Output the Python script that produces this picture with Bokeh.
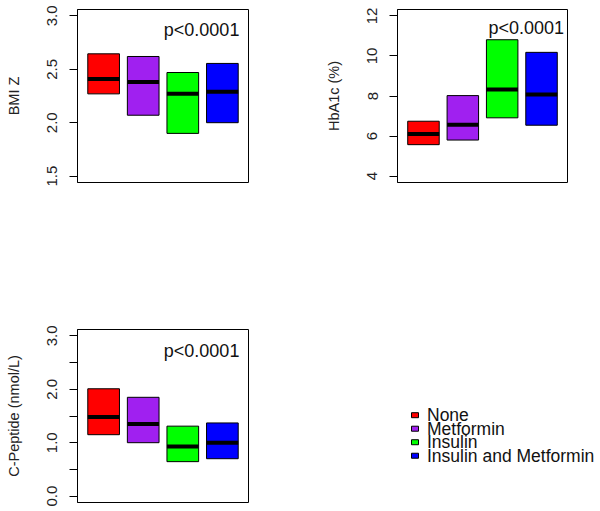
from bokeh.plotting import figure
from bokeh.layouts import column, row
from bokeh.models import Range1d, FixedTicker, PrintfTickFormatter, Label
from bokeh.core.properties import value
from bokeh.embed import file_html
from bokeh.resources import INLINE

# ---- data ----
groups = ["None", "Metformin", "Insulin", "Insulin and Metformin"]
colors = ["#FF0000", "#A020F0", "#00FF00", "#0000FF"]
positions = [1, 2, 3, 4]

bmi_q1 = [2.27, 2.07, 1.90, 2.00]
bmi_med = [2.41, 2.38, 2.27, 2.29]
bmi_q3 = [2.645, 2.62, 2.47, 2.555]
bmi_ticks = [1.5, 2.0, 2.5, 3.0]

hba_q1 = [5.57, 5.80, 6.91, 6.54]
hba_med = [6.10, 6.56, 8.32, 8.07]
hba_q3 = [6.74, 8.02, 10.81, 10.18]
hba_ticks = [4, 6, 8, 10, 12]

cp_q1 = [1.15, 1.00, 0.645, 0.70]
cp_med = [1.48, 1.35, 0.93, 1.00]
cp_q3 = [2.01, 1.85, 1.31, 1.37]
cp_ticks = [0.0, 0.5, 1.0, 1.5, 2.0, 2.5, 3.0]
cp_labels = {0.0: "0.0", 0.5: "", 1.0: "1.0", 1.5: "", 2.0: "2.0", 2.5: "", 3.0: "3.0"}

p_text = "p<0.0001"

FONT = "Liberation Sans"
BOX_W = 0.8


def panel(q1, med, q3, ylim, ticks, ylabel, width, height, border, ptxt_xy, fmt=None, overrides=None):
    p = figure(width=width, height=height, output_backend="svg", toolbar_location=None,
               title=None, x_range=Range1d(0.34, 4.66), y_range=Range1d(*ylim),
               min_border_left=border[0], min_border_right=border[1],
               min_border_top=border[2], min_border_bottom=border[3])
    p.xaxis.visible = False
    p.xgrid.visible = False
    p.ygrid.visible = False
    p.outline_line_color = "black"
    p.outline_line_width = 1
    p.background_fill_color = "white"
    p.border_fill_color = "white"
    ax = p.yaxis[0]
    ax.ticker = FixedTicker(ticks=ticks)
    if fmt is not None:
        ax.formatter = PrintfTickFormatter(format=fmt)
    if overrides is not None:
        ax.major_label_overrides = overrides
    ax.major_label_orientation = "vertical"
    ax.major_tick_out = 8
    ax.major_tick_in = 0
    ax.minor_tick_out = 0
    ax.minor_tick_in = 0
    ax.axis_line_color = "black"
    ax.major_tick_line_color = "black"
    ax.major_label_text_font = FONT
    ax.major_label_text_font_size = "15px"
    ax.major_label_text_color = "#222222"
    ax.major_label_standoff = 12
    ax.axis_label = ylabel
    ax.axis_label_text_font = FONT
    ax.axis_label_text_font_size = "14.5px"
    ax.axis_label_text_font_style = "normal"
    ax.axis_label_text_color = "#222222"
    ax.axis_label_standoff = 23

    p.vbar(x=positions, width=BOX_W, bottom=q1, top=q3, fill_color=colors,
           line_color="black", line_width=1)
    p.segment(x0=[x - BOX_W / 2 for x in positions], x1=[x + BOX_W / 2 for x in positions],
              y0=med, y1=med, line_color="black", line_width=4, line_cap="butt")
    p.add_layout(Label(x=ptxt_xy[0], y=ptxt_xy[1], text=p_text, text_align="right",
                       text_baseline="alphabetic", text_font=FONT, text_font_size="18px",
                       text_color="#111111"))
    return p


p1 = panel(bmi_q1, bmi_med, bmi_q3, (1.44, 3.06), bmi_ticks, "BMI Z",
           300, 319, (77, 52, 9, 137), (4.43, 2.869), fmt="%.1f")
p2 = panel(hba_q1, hba_med, hba_q3, (3.68, 12.32), hba_ticks, "HbA1c (%)",
           300, 319, (97, 33, 9, 137), (4.57, 11.395), fmt="%d")
p3 = panel(cp_q1, cp_med, cp_q3, (-0.12, 3.12), cp_ticks, "C-Peptide (nmol/L)",
           300, 192, (77, 52, 10, 9), (4.43, 2.721), overrides=cp_labels)

# legend panel: x in screen px, y in legend-row units (15 px per row, downward)
p4 = figure(width=300, height=192, output_backend="svg", toolbar_location=None, title=None,
            x_range=Range1d(0, 300), y_range=Range1d(6.46, -6.34), min_border=0)
p4.axis.visible = False
p4.grid.visible = False
p4.outline_line_color = None
p4.border_fill_color = "white"
p4.background_fill_color = "white"
rows = list(range(len(groups)))
p4.rect(x=[114.5] * len(groups), y=rows, width=7, height=5, width_units="screen",
        height_units="screen", fill_color=colors, line_color="black", line_width=1)
p4.text(x=[126.5] * len(groups), y=rows, text=groups, text_baseline="middle",
        text_align="left", text_font=value(FONT), text_font_size="17.5px",
        text_color="#111111")

layout = column(row(p1, p2), row(p3, p4))

open("out.html", "w").write(file_html(layout, INLINE))
